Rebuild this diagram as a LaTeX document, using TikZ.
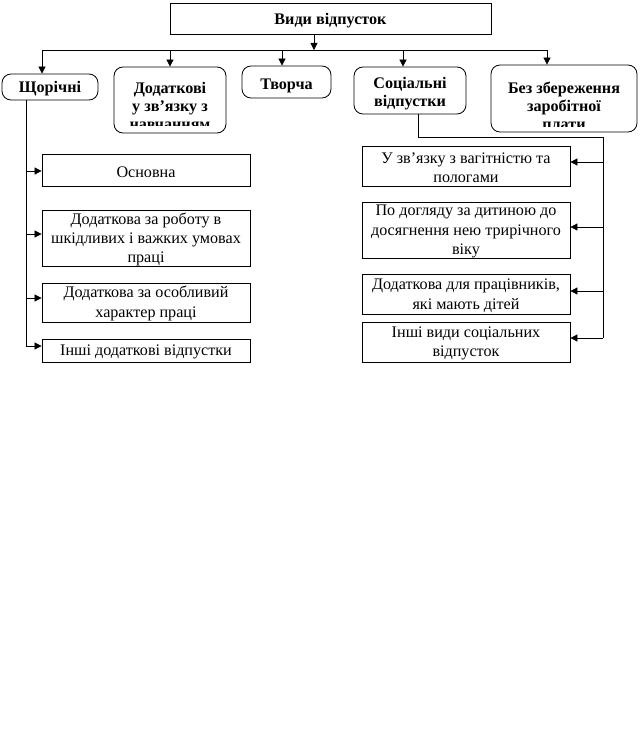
\documentclass[tikz,border=0pt]{standalone}
\usepackage{fontspec}
\setmainfont{Liberation Serif}
\usetikzlibrary{arrows.meta}
\begin{document}
\begin{tikzpicture}[x=1bp,y=-1bp,
  box/.style={draw, line width=0.8bp, inner sep=0pt},
  rbox/.style={box, rounded corners=9bp},
  bt/.style={font=\fontsize{16.2}{18}\selectfont\bfseries, align=center, inner sep=0pt},
  nt/.style={font=\fontsize{16.2}{19.5}\selectfont, align=center, inner sep=0pt},
  arr/.style={-{Triangle[length=7bp,width=7bp]}, line width=0.8bp},
  ln/.style={line width=0.8bp}]
\useasboundingbox (0,0) rectangle (640,750);
% top
\node[box,minimum width=321bp,minimum height=31bp] (top) at (330.5,18.5) {};
\node[bt] (topt) at ([yshift=-2bp]top.center) {Види відпусток};
% first row
\node[rbox,minimum width=96bp,minimum height=26bp] (shch) at (50,87) {};
\node[bt] (shcht) at ([yshift=-1.5bp]shch.center) {Щорічні};
\node[rbox,minimum width=112bp,minimum height=66bp] (dod) at (170,100) {};
\begin{scope}
  \clip (115,68) rectangle (225,125);
  \node[bt] (dodt) at (170,106) {Додаткові\\у зв’язку з\\навчанням};
\end{scope}
\node[rbox,minimum width=89bp,minimum height=32bp] (tvor) at (286.5,82) {};
\node[bt] (tvort) at ([yshift=-4bp]tvor.center) {Творча};
\node[rbox,minimum width=112bp,minimum height=47bp] (soc) at (410,90.5) {};
\node[bt] (soct) at ([yshift=-3bp]soc.center) {Соціальні\\відпустки};
\node[rbox,minimum width=146bp,minimum height=67bp] (bez) at (564,98.5) {};
\begin{scope}
  \clip (492,66) rectangle (636,126);
  \node[bt] (bezt) at (564,106) {Без збереження\\заробітної\\плати};
\end{scope}
% left column
\node[box,minimum width=208bp,minimum height=32bp] (l1) at (146,170) {};
\node[nt] (l1t) at ([yshift=-2bp]l1.center) {Основна};
\node[box,minimum width=208bp,minimum height=56bp] (l2) at (146,238) {};
\node[nt] (l2t) at ([yshift=-1.5bp]l2.center) {Додаткова за роботу в\\шкідливих і важких умовах\\праці};
\node[box,minimum width=208bp,minimum height=39bp] (l3) at (146,302.5) {};
\node[nt] (l3t) at ([yshift=-1bp]l3.center) {Додаткова за особливий\\характер праці};
\node[box,minimum width=208bp,minimum height=23bp] (l4) at (146,350.5) {};
\node[nt] (l4t) at ([yshift=-1.5bp]l4.center) {Інші додаткові відпустки};
% right column
\node[box,minimum width=208bp,minimum height=40bp] (r1) at (466,166) {};
\node[nt] (r1t) at ([yshift=-1.5bp]r1.center) {У зв’язку з вагітністю та\\пологами};
\node[box,minimum width=208bp,minimum height=56bp] (r2) at (466,230) {};
\node[nt] (r2t) at ([yshift=-1.5bp]r2.center) {По догляду за дитиною до\\досягнення нею трирічного\\віку};
\node[box,minimum width=208bp,minimum height=40bp] (r3) at (466,294) {};
\node[nt] (r3t) at ([yshift=-1.5bp]r3.center) {Додаткова для працівників,\\які мають дітей};
\node[box,minimum width=208bp,minimum height=40bp] (r4) at (466,342) {};
\node[nt] (r4t) at ([yshift=-1.5bp]r4.center) {Інші види соціальних\\відпусток};
% top connectors
\coordinate (bl) at (42,50);
\coordinate (br) at (547,50);
\coordinate (bm) at (314,50);
\coordinate (b1) at (170,50);
\coordinate (b2) at (282,50);
\coordinate (b3) at (403,50);
\draw[arr] (top.south -| bm) -- (bm);
\draw[ln] (bl) -- (br);
\draw[arr] (bl) -- (bl |- shch.north);
\draw[arr] (b1) -- (b1 |- dod.north);
\draw[arr] (b2) -- (b2 |- tvor.north);
\draw[arr] (b3) -- (b3 |- soc.north);
\draw[arr] (br) -- (br |- bez.north);
% left trunk
\coordinate (lt) at (26,100);
\coordinate (la) at (26,171);
\coordinate (lb) at (26,234);
\coordinate (lc) at (26,298);
\coordinate (ld) at (26,346);
\draw[ln] (shch.south -| lt) -- (ld);
\draw[arr] (la) -- (la -| l1.west);
\draw[arr] (lb) -- (lb -| l2.west);
\draw[arr] (lc) -- (lc -| l3.west);
\draw[arr] (ld) -- (ld -| l4.west);
% right trunk
\coordinate (s0) at (418,137);
\coordinate (s1) at (603,137);
\coordinate (ra) at (603,162);
\coordinate (rb) at (603,227);
\coordinate (rc) at (603,291);
\coordinate (rd) at (603,338);
\draw[ln] (soc.south -| s0) -- (s0) -- (s1) -- (rd);
\draw[arr] (ra) -- (ra -| r1.east);
\draw[arr] (rb) -- (rb -| r2.east);
\draw[arr] (rc) -- (rc -| r3.east);
\draw[arr] (rd) -- (rd -| r4.east);
\end{tikzpicture}
\end{document}
